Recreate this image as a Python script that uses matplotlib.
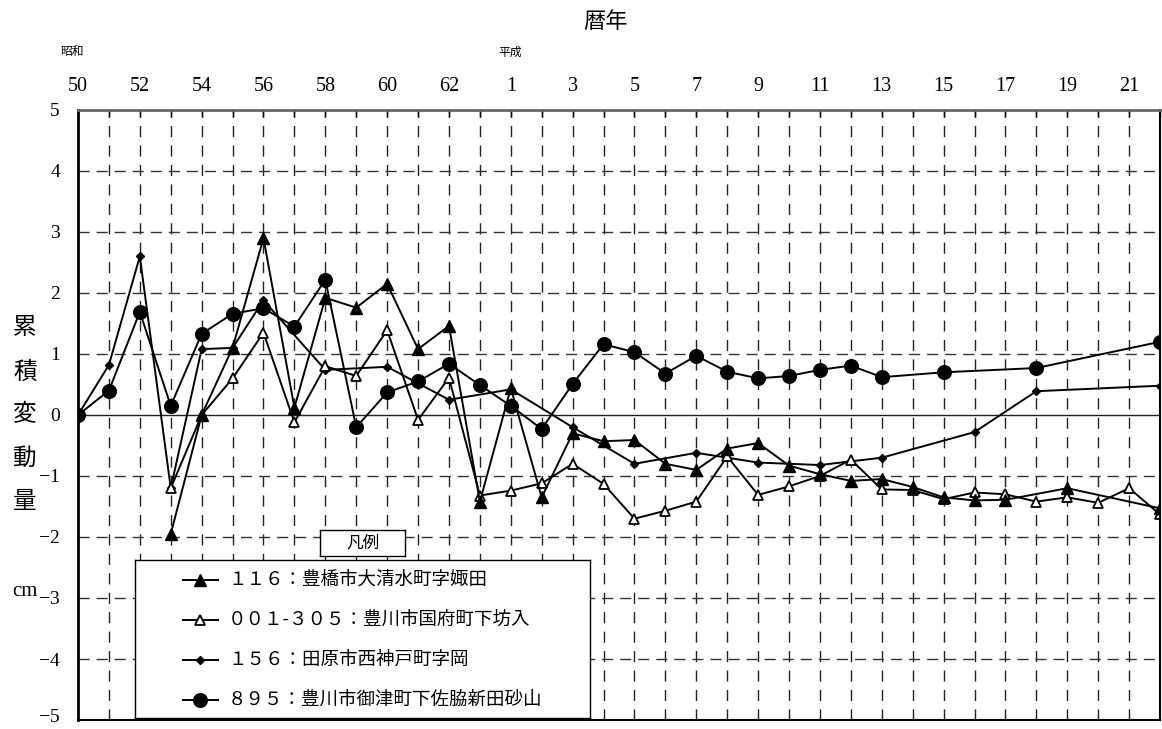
import matplotlib
matplotlib.use("Agg")
import matplotlib.pyplot as plt
from matplotlib.transforms import ScaledTranslation

# ---- data: cumulative change (cm) per survey year ----
years_116 = [1978, 1979, 1980, 1981, 1982, 1983, 1984, 1985, 1986, 1987,
             1988, 1989, 1990, 1991, 1992, 1993, 1994, 1995, 1996, 1997,
             1998, 1999, 2000, 2001, 2002, 2003, 2004, 2005, 2007, 2010]
vals_116 = [-1.95, 0.00, 1.10, 2.90, 0.12, 1.92, 1.76, 2.15, 1.08, 1.46,
            -1.42, 0.44, -1.35, -0.30, -0.43, -0.41, -0.80, -0.90, -0.55, -0.46,
            -0.83, -0.97, -1.08, -1.05, -1.18, -1.35, -1.40, -1.39, -1.20, -1.53]

years_001 = list(range(1978, 2011))
vals_001 = [-1.20, 0.00, 0.60, 1.35, -0.12, 0.80, 0.64, 1.39, -0.08, 0.61,
            -1.32, -1.24, -1.12, -0.80, -1.13, -1.70, -1.57, -1.42, -0.68, -1.31,
            -1.17, -1.00, -0.73, -1.22, -1.23, -1.38, -1.27, -1.30, -1.42, -1.35,
            -1.44, -1.20, -1.63]

years_156 = [1975, 1976, 1977, 1978, 1979, 1980, 1981, 1983, 1985, 1987,
             1989, 1991, 1993, 1995, 1997, 1999, 2001, 2004, 2006, 2010]
vals_156 = [0.00, 0.82, 2.60, -1.20, 1.08, 1.10, 1.88, 0.74, 0.79, 0.25,
            0.42, -0.20, -0.80, -0.62, -0.78, -0.82, -0.70, -0.28, 0.39, 0.48]

years_895 = list(range(1975, 2002)) + [2003, 2006, 2010]
vals_895 = [0.00, 0.40, 1.69, 0.15, 1.33, 1.66, 1.75, 1.45, 2.22, -0.20,
            0.37, 0.55, 0.84, 0.49, 0.15, -0.23, 0.51, 1.16, 1.03, 0.68,
            0.97, 0.71, 0.60, 0.64, 0.74, 0.81, 0.62, 0.70, 0.77, 1.20]

labels = ["１１６：豊橋市大清水町字娵田",
          "００１-３０５：豊川市国府町下坊入",
          "１５６：田原市西神戸町字岡",
          "８９５：豊川市御津町下佐脇新田砂山"]

tick_years = list(range(1975, 2010, 2))
tick_labels = ["50", "52", "54", "56", "58", "60", "62", "1", "3", "5",
               "7", "9", "11", "13", "15", "17", "19", "21"]
y_ticks = [5, 4, 3, 2, 1, 0, -1, -2, -3, -4, -5]

# ---- figure set-up ----
W, H, DPI = 1162, 729, 100
JP = ["Noto Sans CJK JP", "DejaVu Sans"]
SERIF = ["Liberation Serif", "DejaVu Serif"]

def fx(px):
    return px / W

def fy(py):
    return 1 - py / H

fig = plt.figure(figsize=(W / DPI, H / DPI), dpi=DPI)
fig.patch.set_facecolor("white")
ax = fig.add_axes([fx(78), fy(720), (1160 - 78) / W, (720 - 110) / H])
ax.set_xlim(1975, 2010)
ax.set_ylim(-5, 5)

# grid: dashed yearly verticals, dashed integer horizontals, solid zero line
for yr in range(1976, 2010):
    ax.axvline(yr, color="#222222", lw=1.0, ls=(0, (8, 6)), zorder=1)
for yv in range(-4, 5):
    if yv == 0:
        ax.axhline(0, color="#222222", lw=1.0, zorder=1)
    else:
        ax.axhline(yv, color="#333333", lw=1.0, ls=(0, (8, 5)), zorder=1)

style = dict(color="black", lw=1.4, zorder=3)
series = [
    (years_156, vals_156, dict(marker="D", ms=4.2, mfc="black", mec="black")),
    (years_001, vals_001, dict(marker="^", ms=7.5, mfc="white", mec="black", mew=1.3)),
    (years_116, vals_116, dict(marker="^", ms=8.5, mfc="black", mec="black")),
    (years_895, vals_895, dict(marker="o", ms=9.8, mfc="black", mec="black")),
]
for xs, ys, mk in series:
    ax.plot(xs, ys, **style, **mk)

# axes frame and ticks
ax.set_xticks(list(range(1975, 2011)), minor=True)
ax.set_xticks(tick_years)
ax.set_xticklabels(tick_labels, family=SERIF, fontsize=14.5)
ax.xaxis.set_ticks_position("top")
ax.xaxis.set_label_position("top")
ax.tick_params(axis="x", which="both", direction="in", length=5, width=1.0,
               pad=10, top=True, bottom=False)
ax.set_yticks(y_ticks)
ax.set_yticklabels([str(v).replace("-", "\u2212") for v in y_ticks],
                   family=SERIF, fontsize=14)
ax.tick_params(axis="y", length=0, pad=13)
# keep the lowest value label clear of the bottom edge
bottom_label = ax.get_yticklabels()[-1]
bottom_label.set_transform(bottom_label.get_transform()
                           + ScaledTranslation(0, 3 / 72, fig.dpi_scale_trans))
ax.spines["left"].set_linewidth(2.0)
ax.spines["top"].set_linewidth(2.0)
ax.spines["top"].set_color("#666666")
ax.spines["right"].set_linewidth(1.5)
ax.spines["bottom"].set_linewidth(1.5)
for sp in ax.spines.values():
    sp.set_zorder(5)

# titles and axis captions
fig.text(fx(605), fy(22), "暦年", family=JP, fontsize=16, ha="center", va="center")
fig.text(fx(72), fy(52), "昭和", family=JP, fontsize=8.5, ha="center", va="center")
fig.text(fx(510), fy(52), "平成", family=JP, fontsize=8.5, ha="center", va="center")
for ch, py in zip("累積変動量", [328, 372, 415, 458, 502]):
    fig.text(fx(25), fy(py), ch, family=JP, fontsize=17, ha="center", va="center")
fig.text(fx(25), fy(592), "cm", family=SERIF, fontsize=15, ha="center", va="center")

# legend panel drawn in pixel coordinates
lax = fig.add_axes([fx(135), fy(718), (590 - 135) / W, (718 - 560) / H], zorder=10)
lax.set_xlim(135, 590)
lax.set_ylim(718, 560)
lax.set_xticks([])
lax.set_yticks([])
lax.set_facecolor("white")
for sp in lax.spines.values():
    sp.set_linewidth(1.0)
legend_rows = [580, 620, 660, 700]
legend_marks = [series[2][2], series[1][2], series[0][2], series[3][2]]
for py, mk, lab in zip(legend_rows, legend_marks, labels):
    lax.plot([183, 200.5, 218], [py, py, py], markevery=[1], **style, **mk)
    lax.text(228, py, lab, family=JP, fontsize=13.3, ha="left", va="center")

tax = fig.add_axes([fx(320), fy(556), (405 - 320) / W, (556 - 530) / H], zorder=11)
tax.set_xticks([])
tax.set_yticks([])
tax.set_facecolor("white")
for sp in tax.spines.values():
    sp.set_linewidth(1.0)
tax.text(0.5, 0.5, "凡例", family=JP, fontsize=12, ha="center", va="center",
         transform=tax.transAxes)

fig.savefig("out.png", dpi=DPI, facecolor="white")
